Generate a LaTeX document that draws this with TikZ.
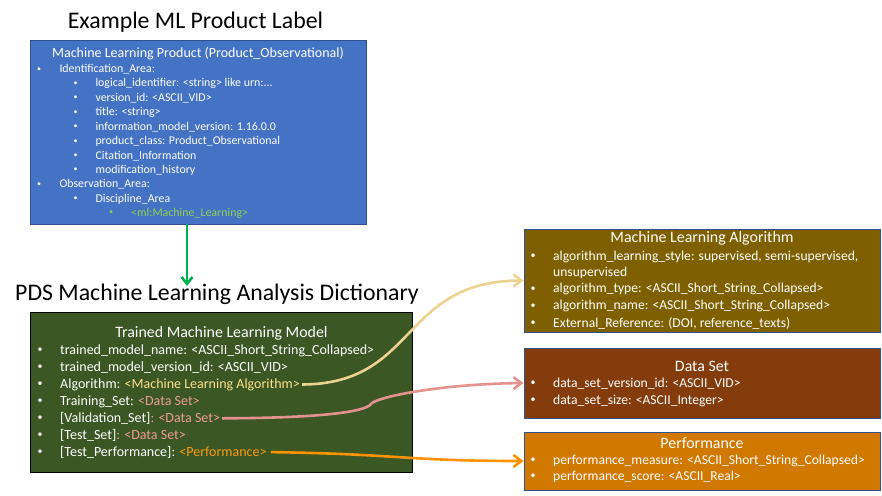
\documentclass[tikz,border=0pt]{standalone}
\usepackage{fontspec}
\setmainfont{Carlito}
\usetikzlibrary{arrows.meta,positioning}
\definecolor{LblBlue}{HTML}{4472C4}
\definecolor{LblEdge}{HTML}{2F528F}
\definecolor{ModelGreen}{HTML}{3A5724}
\definecolor{AlgBrown}{HTML}{7F6000}
\definecolor{SetBrown}{HTML}{843C0C}
\definecolor{PerfOrange}{HTML}{D07800}
\definecolor{MlGreen}{HTML}{92D050}
\definecolor{FlowGreen}{HTML}{00B050}
\definecolor{AlgLine}{HTML}{EDD28F}
\definecolor{AlgText}{HTML}{FFE08A}
\definecolor{SetLine}{HTML}{E3928E}
\definecolor{SetText}{HTML}{EE9C94}
\definecolor{PerfLine}{HTML}{FF9200}
\definecolor{PerfText}{HTML}{FF9A10}

\begin{document}
\begin{tikzpicture}[x=1pt,y=-1pt,
  title/.style={inner sep=0pt,font=\fontsize{23.8}{28}\selectfont},
  panel/.style={draw=LblEdge,line width=0.8pt,inner sep=0pt},
  head/.style={text=white,inner sep=0pt,font=\fontsize{15.9}{19}\selectfont},
  item/.style={anchor=west,text=white,inner sep=0pt,font=\fontsize{13.6}{16}\selectfont},
  dot/.style={text=white,inner sep=0pt,font=\fontsize{10}{12}\selectfont},
  small/.style={font=\fontsize{11.9}{14}\selectfont},
  link/.style={-{Straight Barb[length=8pt,width=12pt]},line width=2.6pt},
  flow/.style={-{Straight Barb[length=7pt,width=11pt]},line width=2.6pt,draw=FlowGreen}
]
\useasboundingbox (0,0) rectangle (882,495);

% example product label
\node[title] (labeltitle) at (195.5,22) {Example ML Product Label};
\node[panel,fill=LblBlue,minimum width=336,minimum height=184] (product) at (198,132) {};
\node[head,font=\fontsize{14}{17}\selectfont] (producthead) at (198,54) {Machine Learning Product (Product\_Observational)};
\foreach \lv/\t [count=\i] in {1/{Identification\_Area:},
    2/{logical\_identifier: <string> like urn:...}, 2/{version\_id: <ASCII\_VID>},
    2/{title: <string>}, 2/{information\_model\_version: 1.16.0.0},
    2/{product\_class: Product\_Observational}, 2/{Citation\_Information},
    2/{modification\_history}, 1/{Observation\_Area:}, 2/{Discipline\_Area}} {
  \node[dot,font=\fontsize{8}{10}\selectfont] at ({39+36.5*(\lv-1)},{69.3+14.4*(\i-1)}) {•};
  \node[item,small] (pl\i) at ({59.3+36*(\lv-1)},{69.3+14.4*(\i-1)}) {\t};
}
\node[dot,text=MlGreen,font=\fontsize{8}{10}\selectfont] at (111,213) {•};
\node[item,small,text=MlGreen] (mltag) at (131,213) {<ml:Machine\_Learning>};

% dictionary
\coordinate (dicttop) at (187,286);
\draw[flow] (product.south -| dicttop) -- (dicttop);
\node[title] (dicttitle) at (217,294) {PDS Machine Learning Analysis Dictionary};
\node[panel,draw=black,fill=ModelGreen,minimum width=381.6,minimum height=160.4] (model) at (221.5,392.5) {};
\node[head] (modelhead) at (221.5,333.3) {Trained Machine Learning Model};
\foreach \t [count=\i] in {{trained\_model\_name: <ASCII\_Short\_String\_Collapsed>},
    {trained\_model\_version\_id: <ASCII\_VID>},
    {Algorithm: \textcolor{AlgText}{<Machine Learning Algorithm>}},
    {Training\_Set: \textcolor{SetText}{<Data Set>}},
    {[Validation\_Set]\textcolor{SetText}{: <Data Set>}},
    {[Test\_Set]\textcolor{SetText}{: <Data Set>}},
    {[Test\_Performance]: \textcolor{PerfText}{<Performance>}}} {
  \node[dot] at (40,{350.7+16.9*(\i-1)}) {•};
  \node[item,font=\fontsize{14}{17}\selectfont] (ml\i) at (60,{350.7+16.9*(\i-1)}) {\t};
}

% referenced classes
\node[panel,fill=AlgBrown,minimum width=356,minimum height=103] (algo) at (702,280.5) {};
\node[head] (algohead) at (702,238.5) {Machine Learning Algorithm};
\foreach \y/\t in {256.7/{algorithm\_learning\_style: supervised, semi-supervised,},
    289.3/{algorithm\_type: <ASCII\_Short\_String\_Collapsed>},
    306/{algorithm\_name: <ASCII\_Short\_String\_Collapsed>},
    323.3/{External\_Reference: (DOI, reference\_texts)}} {
  \node[dot] at (533,\y) {•};
  \node[item] at (553,\y) {\t};
}
\node[item] (algowrap) at (553,272.7) {unsupervised};

\node[panel,fill=SetBrown,minimum width=356,minimum height=70] (dataset) at (702,383) {};
\node[head] (datasethead) at (702,366) {Data Set};
\node[dot] at (533,383.3) {•};
\node[item] (ds1) at (553,383.3) {data\_set\_version\_id: <ASCII\_VID>};
\node[dot] at (533,400.7) {•};
\node[item] (ds2) at (553,400.7) {data\_set\_size: <ASCII\_Integer>};

\node[panel,fill=PerfOrange,minimum width=356,minimum height=58] (perf) at (702,461) {};
\node[head] (perfhead) at (702,443) {Performance};
\node[dot] at (533,460.7) {•};
\node[item] (pf1) at (553,460.7) {performance\_measure: <ASCII\_Short\_String\_Collapsed>};
\node[dot] at (533,476.7) {•};
\node[item] (pf2) at (553,476.7) {performance\_score: <ASCII\_Real>};

% references
\draw[link,draw=AlgLine] ([xshift=2pt]ml3.east) .. controls (418,384) and (400,281) .. (algo.west);
\draw[link,draw=SetLine] ([xshift=2pt]ml5.east) .. controls (320,418) and (365,412) .. (371,404)
  .. controls (376,397) and (440,384) .. (dataset.west);
\draw[link,draw=PerfLine] ([xshift=4pt]ml7.east) .. controls (400,454) and (405,461) .. (perf.west);
\end{tikzpicture}
\end{document}
